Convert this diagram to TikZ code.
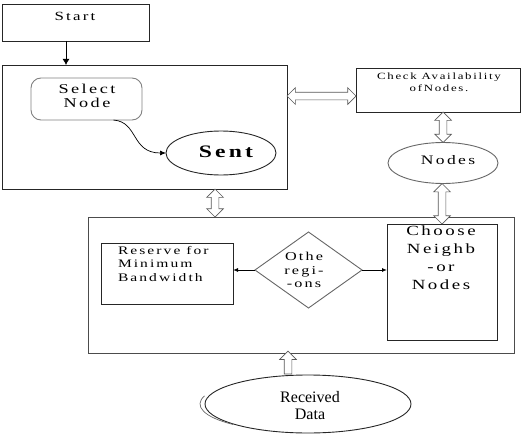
\documentclass[tikz,border=0pt]{standalone}
\usepackage{fontspec}
\setmainfont{Liberation Serif}
\newfontfamily\wide[FakeStretch=1.35, LetterSpace=18]{Liberation Serif}
\usetikzlibrary{arrows.meta,shapes.geometric,shapes.arrows,calc}
\tikzset{
  box/.style={draw=black!85, line width=0.9pt, inner sep=0pt, outer sep=0pt},
  lbl/.style={inner sep=0pt, outer sep=0pt, align=center},
  arrowbody/.style={draw=black!65, fill=white, line width=0.7pt, inner xsep=0pt, inner ysep=3.5pt,
     outer sep=0pt, minimum width=16pt},
  blockboth/.style={to path={let \p1=(\tikztostart), \p2=(\tikztotarget),
     \n1={veclen(\x2-\x1,\y2-\y1)}, \n2={atan2(\y2-\y1,\x2-\x1)} in
     (\tikztostart) -- (\tikztotarget) node[midway, arrowbody, double arrow,
     double arrow head extend=4.5pt, rotate=\n2,
     minimum height=\n1] {}}},
  blockone/.style={to path={let \p1=(\tikztostart), \p2=(\tikztotarget),
     \n1={veclen(\x2-\x1,\y2-\y1)}, \n2={atan2(\y2-\y1,\x2-\x1)} in
     (\tikztostart) -- (\tikztotarget) node[midway, arrowbody, single arrow,
     single arrow head extend=4.5pt, rotate=\n2,
     minimum height=\n1] {}}},
  solidarr/.style={line width=0.9pt, -{Latex[length=6pt,width=7pt]}},
  smallarr/.style={line width=0.9pt}
}
\begin{document}
\begin{tikzpicture}[x=1pt,y=-1pt]
\useasboundingbox (0,0) rectangle (527,436);
% boxes
\node[box, minimum width=147pt, minimum height=37pt] (start) at (75.5,22.5) {};
\node[box, minimum width=285pt, minimum height=124pt] (big1) at (144.5,127) {};
\node[box, draw=black!50, rounded corners=10pt, minimum width=111pt, minimum height=42pt] (select) at (86.5,99) {};
\node[box, ellipse, minimum width=110pt, minimum height=44pt] (sent) at (221,153) {};
\node[box, minimum width=164pt, minimum height=44pt] (check) at (438,90) {};
\node[box, draw=black!60, ellipse, minimum width=110pt, minimum height=41pt] (nodes) at (443,163) {};
\node[box, draw=black!70, minimum width=426pt, minimum height=136pt] (big2) at (301,285) {};
\node[box, minimum width=132pt, minimum height=61pt] (reserve) at (167,273.5) {};
\node[box, draw=black!60, diamond, minimum width=107pt, minimum height=76pt] (dia) at (308.5,270) {};
\node[box, minimum width=110pt, minimum height=116pt] (choose) at (442,282) {};
\node[box, ellipse, minimum width=206pt, minimum height=58pt] (recv) at (308,404) {};
% texts
\node[lbl, font=\wide\fontsize{12.5}{14}\selectfont] (tstart) at (75,16) {Start};
\node[lbl, font=\wide\fontsize{13.5}{14}\selectfont] (tselect) at (87,96) {Select\\Node};
\node[lbl, font=\wide\bfseries\fontsize{17.5}{19}\selectfont] (tsent) at (226,152) {Sent};
\node[lbl, font=\wide\fontsize{9.5}{12}\selectfont] (tcheck) at (439,82) {Check Availability\\ofNodes.};
\node[lbl, font=\wide\fontsize{13}{14}\selectfont] (tnodes) at (448,160) {Nodes};
\node[lbl, align=left, anchor=north west, font=\wide\fontsize{11.5}{13.5}\selectfont] (treserve) at (118,246) {Reserve for\\Minimum\\Bandwidth};
\node[lbl, font=\wide\fontsize{12}{13.5}\selectfont] (tdia) at (304,270) {Othe\\regi-\\-ons};
\node[lbl, anchor=north, font=\wide\fontsize{14}{18}\selectfont] (tchoose) at (441,226) {Choose\\Neighb\\-or\\Nodes};
\node[lbl, font=\fontsize{16}{17}\selectfont] (trecv) at (310,406) {Received\\Data};
% connectors
\draw[solidarr] ([xshift=-9.5pt]start.south) -- ([xshift=-9.5pt]start.south |- big1.north);
\draw[line width=0.7pt, -{Latex[length=6pt,width=5pt]}] ([xshift=27pt]select.south) .. controls +(25,2) and +(-35,0) .. (sent.west);
\path[blockboth] ([yshift=-6pt]check.west -| big1.east) to ([yshift=-6pt]check.west);
\path[blockboth] (nodes.north |- check.south) to (nodes.north);
\path[blockboth] ([xshift=-1pt]nodes.south) to ([xshift=-1pt]nodes.south |- choose.north);
\path[blockboth] ([xshift=70.5pt]big1.south) to ([xshift=70.5pt]big1.south |- big2.north);
\path[blockone] ([xshift=-20pt,yshift=-1pt]recv.north) to ([xshift=-20pt]recv.north |- big2.south);
\draw[smallarr, {Latex[length=5pt,width=4pt]}-] (dia.west -| reserve.east) -- (dia.west);
\draw[smallarr, -{Latex[length=5pt,width=4pt]}] (dia.east) -- (dia.east -| choose.west);
\draw[line width=0.7pt, draw=black!60] ([xshift=-4pt]recv.center) ++(197:104 and 28) arc[start angle=197, end angle=133, x radius=104, y radius=28];
\end{tikzpicture}
\end{document}
